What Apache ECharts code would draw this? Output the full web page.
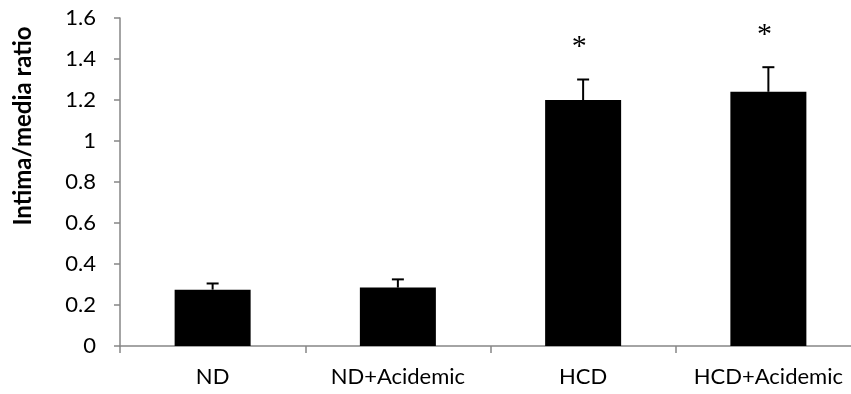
<!DOCTYPE html>
<html>
<head>
<meta charset="utf-8">
<script src="https://cdn.jsdelivr.net/npm/echarts@6/dist/echarts.min.js"></script>
<style>html,body{margin:0;padding:0;background:#fff;overflow:hidden;width:851px;height:394px;}#c{width:861px;height:394px;}</style>
</head>
<body>
<div id="c"></div>
<script>
var categories = ['ND', 'ND+Acidemic', 'HCD', 'HCD+Acidemic'];
var values = [0.275, 0.285, 1.2, 1.24];
var errors = [0.03, 0.04, 0.1, 0.12];
var significant = ['', '', '*', '*'];
var yTicks = [0, 0.2, 0.4, 0.6, 0.8, 1, 1.2, 1.4, 1.6];

var chart = echarts.init(document.getElementById('c'));
var axisColor = '#868686';
var font = 'Lato';

chart.setOption({
  animation: false,
  grid: { left: 120, top: 18, right: 0, bottom: 48 },
  xAxis: {
    type: 'category',
    data: categories,
    axisLine: { lineStyle: { color: axisColor, width: 1.5 } },
    axisTick: { show: true, length: 7, lineStyle: { color: axisColor, width: 1.5 } },
    axisLabel: { color: '#000', fontFamily: font, fontSize: 22, margin: 20, interval: 0 }
  },
  yAxis: {
    type: 'value',
    min: 0, max: 1.6, interval: 0.2,
    axisLine: { show: true, lineStyle: { color: axisColor, width: 1.5 } },
    axisTick: { show: true, length: 6, lineStyle: { color: axisColor, width: 1.5 } },
    splitLine: { show: false },
    axisLabel: {
      color: '#000', fontFamily: font, fontSize: 22, margin: 24,
      formatter: function (v) { return String(Math.round(v * 10) / 10); }
    }
  },
  graphic: [{
    type: 'text',
    x: 23, y: 126,
    rotation: Math.PI / 2,
    style: {
      text: 'Intima/media ratio',
      font: 'bold 24px Lato',
      fill: '#000',
      textAlign: 'center',
      textVerticalAlign: 'middle'
    }
  }],
  series: [{
    type: 'bar',
    data: values,
    barWidth: 76,
    itemStyle: { color: '#000' },
    z: 2
  }, {
    type: 'custom',
    z: 3,
    data: categories.map(function (c, i) { return [i, values[i], errors[i], significant[i]]; }),
    renderItem: function (params, api) {
      var i = api.value(0);
      var v = api.value(1);
      var e = api.value(2);
      var base = api.coord([i, v]);
      var top = api.coord([i, v + e]);
      var half = 6;
      var children = [{
        type: 'line',
        shape: { x1: base[0], y1: base[1], x2: top[0], y2: top[1] },
        style: { stroke: '#000', lineWidth: 2 }
      }, {
        type: 'line',
        shape: { x1: top[0] - half, y1: top[1], x2: top[0] + half, y2: top[1] },
        style: { stroke: '#000', lineWidth: 2 }
      }];
      var s = significant[params.dataIndex];
      if (s) {
        children.push({
          type: 'text',
          x: top[0] - 4, y: top[1] - 32,
          style: {
            text: s,
            font: '30px "Liberation Serif"',
            fill: '#000',
            textAlign: 'center',
            textVerticalAlign: 'middle'
          }
        });
      }
      return { type: 'group', children: children };
    }
  }]
});
</script>
</body>
</html>
